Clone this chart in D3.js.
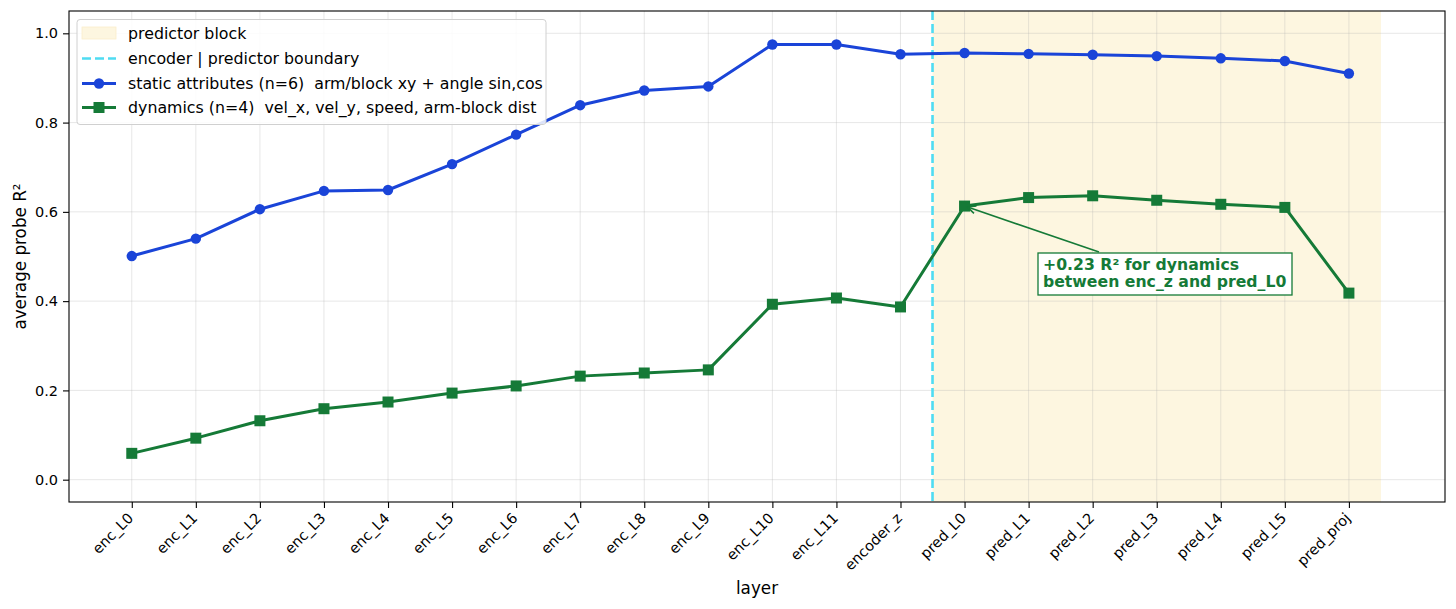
<!DOCTYPE html>
<html>
<head>
<meta charset="utf-8">
<script src="https://cdn.jsdelivr.net/npm/d3@7"></script>
<style>
  html, body { margin: 0; padding: 0; background: #fff; }
  svg { display: block; font-family: "DejaVu Sans", sans-serif; }
  text { white-space: pre; }
</style>
</head>
<body>
<svg id="chart" width="1456" height="609"></svg>
<script>
const layers = ["enc_L0","enc_L1","enc_L2","enc_L3","enc_L4","enc_L5","enc_L6","enc_L7","enc_L8","enc_L9","enc_L10","enc_L11","encoder_z","pred_L0","pred_L1","pred_L2","pred_L3","pred_L4","pred_L5","pred_proj"];
const staticR2 = [0.501,0.540,0.606,0.647,0.649,0.707,0.773,0.839,0.872,0.881,0.975,0.975,0.953,0.956,0.954,0.952,0.949,0.944,0.938,0.910];
const dynamicsR2 = [0.059,0.093,0.132,0.159,0.174,0.194,0.210,0.232,0.239,0.246,0.393,0.407,0.387,0.613,0.632,0.636,0.626,0.617,0.610,0.418];
const yTicks = [0.0,0.2,0.4,0.6,0.8,1.0];
const legendLabels = ["predictor block","encoder | predictor boundary","static attributes (n=6)  arm/block xy + angle sin,cos","dynamics (n=4)  vel_x, vel_y, speed, arm-block dist"];
const annotationLines = ["+0.23 R\u00b2 for dynamics","between enc_z and pred_L0"];

const BLUE = "#1a44d8", GREEN = "#157a37", CYAN = "#4fdcf2", SHADE = "#fdf6e0";

const svg = d3.select("#chart");
const L = 69, R = 1445, T = 11, B = 502;
const x = d3.scaleLinear().domain([-0.98, 20.5]).range([L, R]);
const y = d3.scaleLinear().domain([-0.05, 1.05]).range([B, T]);

const defs = svg.append("defs");
defs.append("clipPath").attr("id","clip").append("rect").attr("x",L).attr("y",T).attr("width",R-L).attr("height",B-T);

// shaded predictor block
svg.append("rect").attr("x", x(12.5)).attr("y", T).attr("width", x(19.5)-x(12.5)).attr("height", B-T).attr("fill", SHADE);

// grid
const grid = svg.append("g").attr("stroke","#b0b0b0").attr("stroke-opacity",0.3).attr("stroke-width",1);
layers.forEach((d,i)=>grid.append("line").attr("x1",x(i)).attr("x2",x(i)).attr("y1",T).attr("y2",B));
yTicks.forEach(v=>grid.append("line").attr("x1",L).attr("x2",R).attr("y1",y(v)).attr("y2",y(v)));

// boundary line
svg.append("line").attr("x1",x(12.5)).attr("x2",x(12.5)).attr("y1",T).attr("y2",B)
  .attr("stroke",CYAN).attr("stroke-width",2.6).attr("stroke-dasharray","9,4");

const line = d3.line().x((d,i)=>x(i)).y(d=>y(d));
const plot = svg.append("g").attr("clip-path","url(#clip)");
plot.append("path").datum(staticR2).attr("d",line).attr("fill","none").attr("stroke",BLUE).attr("stroke-width",3).attr("stroke-linejoin","round");
plot.selectAll("circle.s").data(staticR2).enter().append("circle").attr("cx",(d,i)=>x(i)).attr("cy",d=>y(d)).attr("r",5.2).attr("fill",BLUE);
plot.append("path").datum(dynamicsR2).attr("d",line).attr("fill","none").attr("stroke",GREEN).attr("stroke-width",3).attr("stroke-linejoin","round");
plot.selectAll("rect.d").data(dynamicsR2).enter().append("rect").attr("x",(d,i)=>x(i)-5.5).attr("y",d=>y(d)-5.5).attr("width",11).attr("height",11).attr("fill",GREEN);

// axes frame
svg.append("rect").attr("x",L).attr("y",T).attr("width",R-L).attr("height",B-T).attr("fill","none").attr("stroke","#000").attr("stroke-width",1.1);

// x axis
const xAxis = svg.append("g").attr("transform",`translate(0,${B})`)
  .call(d3.axisBottom(x).tickValues(d3.range(layers.length)).tickFormat(i=>layers[i]).tickSize(6).tickSizeOuter(0));
xAxis.select(".domain").remove();
xAxis.selectAll(".tick line").attr("stroke","#000").attr("stroke-width",1.1);
xAxis.selectAll(".tick text").attr("font-size",14.5).attr("font-family","DejaVu Sans").attr("fill","#000")
  .attr("text-anchor","end").attr("dy",null).attr("y",0)
  .attr("transform","translate(2,17) rotate(-45)");

// y axis
const yAxis = svg.append("g").attr("transform",`translate(${L},0)`)
  .call(d3.axisLeft(y).tickValues(yTicks).tickFormat(d3.format(".1f")).tickSize(6).tickSizeOuter(0));
yAxis.select(".domain").remove();
yAxis.selectAll(".tick line").attr("stroke","#000").attr("stroke-width",1.1);
yAxis.selectAll(".tick text").attr("font-size",14.5).attr("font-family","DejaVu Sans").attr("fill","#000").attr("x",-11);

// axis labels
svg.append("text").attr("x",(L+R)/2).attr("y",594).attr("text-anchor","middle").attr("font-size",16.8).text("layer");
svg.append("text").attr("transform",`translate(26,${(T+B)/2}) rotate(-90)`).attr("text-anchor","middle").attr("font-size",16.8).text("average probe R\u00b2");

// annotation
const ax0 = 1099, ay0 = 252, ax1 = x(13)+3, ay1 = y(dynamicsR2[13])+1;
svg.append("line").attr("x1",ax0).attr("y1",ay0).attr("x2",ax1).attr("y2",ay1).attr("stroke",GREEN).attr("stroke-width",1.6);
const ang = Math.atan2(ay0-ay1, ax0-ax1);
const ah = 9, aw = 0.45;
svg.append("path").attr("d",`M${ax1+ah*Math.cos(ang+aw)},${ay1+ah*Math.sin(ang+aw)} L${ax1},${ay1} L${ax1+ah*Math.cos(ang-aw)},${ay1+ah*Math.sin(ang-aw)}`)
  .attr("fill","none").attr("stroke",GREEN).attr("stroke-width",1.6);
const annG = svg.append("g");
annG.append("rect").attr("x",1038).attr("y",253).attr("width",254).attr("height",42).attr("fill","#fff").attr("stroke",GREEN).attr("stroke-width",1.3);
annotationLines.forEach((t,i)=>annG.append("text").attr("x",1043).attr("y",269.5+i*17.5).attr("font-size",15.7).attr("font-weight","bold").attr("fill",GREEN).text(t));

// legend
const lg = svg.append("g");
lg.append("rect").attr("x",77).attr("y",19.5).attr("width",469).attr("height",105).attr("rx",3).attr("fill","#fff").attr("fill-opacity",0.85).attr("stroke","#d0d0d0").attr("stroke-width",1);
const rowY = [33, 58.5, 83.5, 107.5];
lg.append("rect").attr("x",82).attr("y",rowY[0]-6).attr("width",34).attr("height",12).attr("fill",SHADE).attr("stroke","#fbeecb").attr("stroke-width",0.8);
lg.append("line").attr("x1",82).attr("x2",116).attr("y1",rowY[1]).attr("y2",rowY[1]).attr("stroke",CYAN).attr("stroke-width",2.6).attr("stroke-dasharray","9,4");
lg.append("line").attr("x1",82).attr("x2",116).attr("y1",rowY[2]).attr("y2",rowY[2]).attr("stroke",BLUE).attr("stroke-width",3);
lg.append("circle").attr("cx",99).attr("cy",rowY[2]).attr("r",5.2).attr("fill",BLUE);
lg.append("line").attr("x1",82).attr("x2",116).attr("y1",rowY[3]).attr("y2",rowY[3]).attr("stroke",GREEN).attr("stroke-width",3);
lg.append("rect").attr("x",93.5).attr("y",rowY[3]-5.5).attr("width",11).attr("height",11).attr("fill",GREEN);
legendLabels.forEach((t,i)=>lg.append("text").attr("x",128).attr("y",rowY[i]+5.8).attr("font-size",15.8).attr("fill","#000").text(t));
</script>
</body>
</html>
